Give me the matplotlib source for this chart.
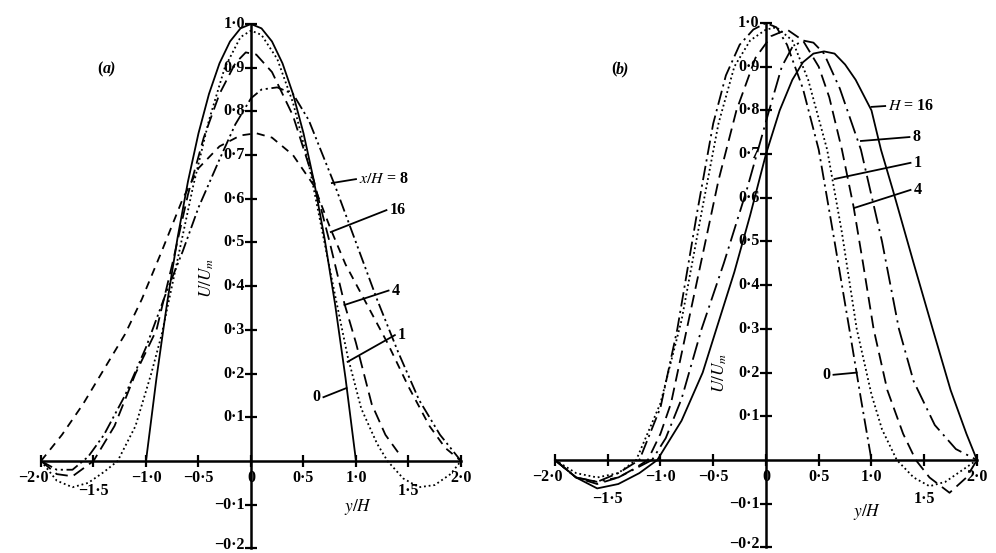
import matplotlib
matplotlib.use("Agg")
import matplotlib.pyplot as plt

plt.rcParams.update({
    "font.family": "Liberation Serif",
    "mathtext.fontset": "stix",
    "lines.color": "black",
})

# ── Données (y/H, U/Um) ─────────────────────────────────────────
# (a) x/H = 0, 1, 4, 8, 16
a0_y = [-1.0, -0.9, -0.8, -0.7, -0.6, -0.5, -0.4, -0.3, -0.2, -0.1, 0.0,
        0.1, 0.2, 0.3, 0.4, 0.5, 0.6, 0.7, 0.8, 0.9, 1.0]
a0_u = [0.0, 0.19, 0.36, 0.51, 0.64, 0.75, 0.84, 0.91, 0.96, 0.99, 1.0,
        0.99, 0.96, 0.91, 0.84, 0.75, 0.64, 0.51, 0.36, 0.19, 0.0]

a1_y = [-2.0, -1.85, -1.7, -1.55, -1.4, -1.27, -1.1, -0.95, -0.85, -0.7, -0.55, -0.4,
        -0.25, -0.1, 0.0, 0.1, 0.25, 0.4, 0.55, 0.7, 0.8, 0.92, 1.05, 1.2, 1.3,
        1.45, 1.6, 1.75, 1.9, 2.0]
a1_u = [0.0, -0.045, -0.06, -0.05, -0.025, 0.0, 0.08, 0.2, 0.29, 0.46, 0.63, 0.78,
        0.9, 0.97, 0.985, 0.975, 0.92, 0.82, 0.68, 0.5, 0.38, 0.24, 0.12, 0.04, 0.0,
        -0.04, -0.06, -0.055, -0.03, 0.0]

a4_y = [-2.0, -1.85, -1.7, -1.5, -1.3, -1.1, -0.9, -0.75, -0.6, -0.45, -0.3, -0.15,
        -0.05, 0.05, 0.2, 0.4, 0.6, 0.75, 0.89, 1.0, 1.15, 1.28, 1.4]
a4_u = [0.0, -0.03, -0.035, 0.0, 0.08, 0.2, 0.3, 0.45, 0.61, 0.74, 0.84, 0.91,
        0.935, 0.93, 0.89, 0.79, 0.64, 0.5, 0.36, 0.27, 0.13, 0.06, 0.02]

a8_y = [-2.0, -1.85, -1.7, -1.55, -1.4, -1.2, -1.0, -0.8, -0.65, -0.5, -0.3, -0.15,
        0.0, 0.1, 0.25, 0.4, 0.55, 0.7, 0.8, 1.0, 1.2, 1.4, 1.6, 1.8, 2.0]
a8_u = [0.0, -0.02, -0.02, 0.01, 0.06, 0.15, 0.26, 0.39, 0.48, 0.58, 0.69, 0.77,
        0.83, 0.85, 0.855, 0.84, 0.78, 0.69, 0.63, 0.5, 0.37, 0.25, 0.14, 0.06, 0.0]

a16_y = [-2.0, -1.8, -1.6, -1.4, -1.2, -1.04, -0.85, -0.65, -0.5, -0.3, -0.1, 0.05,
         0.2, 0.4, 0.6, 0.76, 0.9, 1.1, 1.3, 1.5, 1.7, 1.85, 2.0]
a16_u = [0.0, 0.06, 0.13, 0.21, 0.29, 0.37, 0.48, 0.6, 0.67, 0.72, 0.745, 0.75,
         0.74, 0.7, 0.63, 0.53, 0.45, 0.36, 0.27, 0.17, 0.08, 0.03, 0.0]

# (b) H = 0, 1, 4, 8, 16
b0_y = [-2.0, -1.8, -1.6, -1.4, -1.2, -1.0, -0.84, -0.65, -0.5, -0.38, -0.25, -0.12,
        0.0, 0.1, 0.2, 0.35, 0.5, 0.65, 0.79, 0.9, 1.0]
b0_u = [0.0, -0.04, -0.05, -0.03, 0.0, 0.12, 0.3, 0.57, 0.77, 0.88, 0.95, 0.985,
        1.0, 0.99, 0.95, 0.85, 0.71, 0.5, 0.3, 0.14, 0.0]

b1_y = [-2.0, -1.8, -1.6, -1.4, -1.23, -1.0, -0.8, -0.6, -0.45, -0.3, -0.15, 0.0,
        0.1, 0.25, 0.4, 0.58, 0.72, 0.86, 1.0, 1.1, 1.24, 1.4, 1.55, 1.7, 1.85, 2.0]
b1_u = [0.0, -0.03, -0.04, -0.03, 0.0, 0.13, 0.32, 0.58, 0.77, 0.9, 0.96, 0.985,
        0.99, 0.96, 0.87, 0.71, 0.52, 0.3, 0.15, 0.07, 0.0, -0.04, -0.06, -0.05,
        -0.025, 0.0]

b4_y = [-2.0, -1.8, -1.6, -1.4, -1.25, -1.12, -1.0, -0.9, -0.75, -0.6, -0.45, -0.28,
        -0.1, 0.05, 0.2, 0.35, 0.5, 0.6, 0.72, 0.83, 0.92, 1.02, 1.15, 1.3, 1.42,
        1.55, 1.74, 1.9, 2.0]
b4_u = [0.0, -0.04, -0.055, -0.04, -0.02, 0.0, 0.06, 0.13, 0.3, 0.47, 0.64, 0.8,
        0.92, 0.97, 0.985, 0.96, 0.9, 0.83, 0.71, 0.58, 0.45, 0.3, 0.16, 0.06, 0.0,
        -0.04, -0.075, -0.04, 0.0]

b8_y = [-2.0, -1.8, -1.6, -1.4, -1.2, -1.08, -0.95, -0.8, -0.61, -0.4, -0.18, 0.03,
        0.15, 0.25, 0.35, 0.45, 0.55, 0.7, 0.9, 1.1, 1.26, 1.4, 1.6, 1.8, 2.0]
b8_u = [0.0, -0.04, -0.05, -0.04, -0.015, 0.0, 0.05, 0.14, 0.3, 0.45, 0.62, 0.8,
        0.9, 0.945, 0.96, 0.955, 0.93, 0.85, 0.71, 0.5, 0.3, 0.18, 0.08, 0.025, 0.0]

b16_y = [-2.0, -1.8, -1.6, -1.4, -1.2, -1.03, -0.8, -0.6, -0.47, -0.3, -0.15, 0.0,
         0.13, 0.25, 0.35, 0.45, 0.55, 0.65, 0.75, 0.85, 1.0, 1.09, 1.2, 1.4,
         1.58, 1.75, 1.9, 2.0]
b16_u = [0.0, -0.04, -0.065, -0.055, -0.03, 0.0, 0.09, 0.2, 0.3, 0.43, 0.56, 0.7,
         0.8, 0.87, 0.91, 0.93, 0.935, 0.93, 0.905, 0.87, 0.8, 0.71, 0.62, 0.45,
         0.3, 0.16, 0.06, 0.0]

xticks = [-2.0, -1.5, -1.0, -0.5, 0.0, 0.5, 1.0, 1.5, 2.0]
yticks = [-0.2, -0.1, 0.1, 0.2, 0.3, 0.4, 0.5, 0.6, 0.7, 0.8, 0.9, 1.0]

# ── Styles de trait ─────────────────────────────────────────────
SOLID = "-"
DOT = (0, (1, 1.6))
LDASH = (0, (7, 3.5))
SDASH = (0, (4.5, 3.5))
DDOT = (0, (8, 2.5, 1.2, 2.5))
DDOT2 = (0, (7, 2, 1.2, 2, 1.2, 2))
DLONG = (0, (10, 3, 1.2, 3))

LW = 1.3
TXT = dict(fontsize=11.5, fontweight="bold")


def fmt(v):
    if abs(v) < 1e-9:
        return "0"
    return f"{v:.1f}".replace(".", "·").replace("-", "−")


def setup(ax, low_y):
    ax.set_xlim(-2.0, 2.0)
    ax.set_ylim(-0.2, 1.0)
    for s in ("top", "right"):
        ax.spines[s].set_visible(False)
    ax.spines["left"].set_position(("data", 0))
    ax.spines["bottom"].set_position(("data", 0))
    ax.spines["left"].set_linewidth(1.8)
    ax.spines["bottom"].set_linewidth(1.8)
    ax.set_xticks(xticks)
    ax.set_yticks(yticks)
    ax.tick_params(direction="inout", length=8, width=1.6,
                   labelbottom=False, labelleft=False)
    for v in yticks:
        # le libellé −0·2 est légèrement remonté pour ne pas sortir du cadre
        yy = v + 0.007 if v == -0.2 else v
        ax.text(-0.06, yy, fmt(v), ha="right", va="center", **TXT)
    for v in xticks:
        if abs(v) < 1e-9:
            ax.text(0.0, -0.04, "0", ha="center", va="center", **TXT)
        elif abs(abs(v) - 1.5) < 1e-9:
            ax.text(v, low_y, fmt(v), ha="center", va="center", **TXT)
        elif v == -2.0:
            ax.text(-1.93, -0.04, fmt(v), ha="right", va="center", **TXT)
        else:
            ax.text(v, -0.04, fmt(v), ha="center", va="center", **TXT)


def labels(ax, items):
    for txt, p0, p1 in items:
        ax.plot([p0[0], p1[0]], [p0[1], p1[1]], color="k", lw=1.3)
        ha = "right" if p1[0] < p0[0] else "left"
        ax.text(p1[0] + (0.03 if ha == "left" else -0.03), p1[1], txt,
                ha=ha, va="center", fontsize=11.5, fontweight="bold")


fig = plt.figure(figsize=(9.96, 5.53), dpi=100)
fig.patch.set_facecolor("white")

# ── (a) ─────────────────────────────────────────────────────────
ax1 = fig.add_axes([0.04116, 0.00832, 0.42169, 0.9483])
ax1.set_facecolor("none")
setup(ax1, -0.068)
ax1.plot(a0_y, a0_u, linestyle=SOLID, color="k", lw=LW, clip_on=False)
ax1.plot(a1_y, a1_u, linestyle=DOT, color="k", lw=LW, clip_on=False)
ax1.plot(a4_y, a4_u, linestyle=LDASH, color="k", lw=LW, clip_on=False)
ax1.plot(a8_y, a8_u, linestyle=DDOT2, color="k", lw=LW, clip_on=False)
ax1.plot(a16_y, a16_u, linestyle=SDASH, color="k", lw=LW, clip_on=False)

ax1.text(-1.41, 0.895, "(", ha="right", va="center", **TXT)
ax1.text(-1.41, 0.895, "a)", ha="left", va="center", style="italic", **TXT)
ax1.text(-0.42, 0.42, r"$U/U_m$", rotation=90, ha="center", va="center", fontsize=12.5)
ax1.text(1.02, -0.105, r"$y/H$", ha="center", va="center", fontsize=12.5)

labels(ax1, [
    (r"$x/H$ = 8", (0.77, 0.636), (1.0, 0.645)),
    ("16", (0.76, 0.524), (1.29, 0.574)),
    ("4", (0.89, 0.357), (1.31, 0.39)),
    ("1", (0.92, 0.227), (1.37, 0.288)),
    ("0", (0.91, 0.167), (0.69, 0.146)),
])

# ── (b) ─────────────────────────────────────────────────────────
ax2 = fig.add_axes([0.5572, 0.01013, 0.4237, 0.9483])
ax2.set_facecolor("none")
setup(ax2, -0.09)
ax2.plot(b0_y, b0_u, linestyle=DDOT, color="k", lw=LW, clip_on=False)
ax2.plot(b1_y, b1_u, linestyle=DOT, color="k", lw=LW, clip_on=False)
ax2.plot(b4_y, b4_u, linestyle=LDASH, color="k", lw=LW, clip_on=False)
ax2.plot(b8_y, b8_u, linestyle=DLONG, color="k", lw=LW, clip_on=False)
ax2.plot(b16_y, b16_u, linestyle=SOLID, color="k", lw=LW, clip_on=False)

ax2.text(-1.42, 0.893, "(", ha="right", va="center", **TXT)
ax2.text(-1.42, 0.893, "b)", ha="left", va="center", style="italic", **TXT)
ax2.text(-0.44, 0.2, r"$U/U_m$", rotation=90, ha="center", va="center", fontsize=12.5)
ax2.text(0.96, -0.12, r"$y/H$", ha="center", va="center", fontsize=12.5)

labels(ax2, [
    (r"$H$ = 16", (1.0, 0.808), (1.13, 0.81)),
    ("8", (0.90, 0.73), (1.36, 0.739)),
    ("1", (0.65, 0.643), (1.37, 0.68)),
    ("4", (0.84, 0.577), (1.37, 0.618)),
    ("0", (0.86, 0.20), (0.64, 0.195)),
])

fig.savefig("out.png", dpi=100, facecolor="white")
